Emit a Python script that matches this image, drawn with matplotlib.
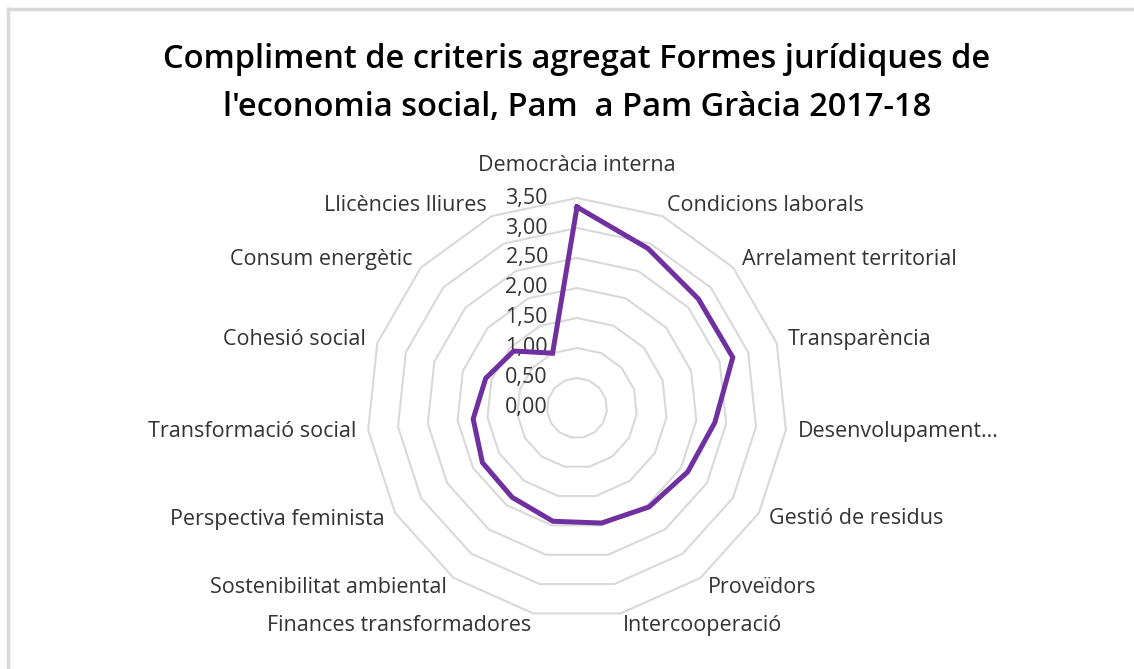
import numpy as np
import matplotlib
matplotlib.use("Agg")
import matplotlib.pyplot as plt
import matplotlib.transforms as mtransforms
from matplotlib.lines import Line2D

categories = ["Democràcia interna", "Condicions laborals", "Arrelament territorial",
              "Transparència", "Desenvolupament…", "Gestió de residus", "Proveïdors",
              "Intercooperació", "Finances transformadores", "Sostenibilitat ambiental",
              "Perspectiva feminista", "Transformació social", "Cohesió social",
              "Consum energètic", "Llicències lliures"]
values = [3.35, 2.91, 2.72, 2.73, 2.31, 2.13, 2.04, 1.96, 1.93, 1.84,
          1.82, 1.74, 1.60, 1.42, 1.00]
rings = [0.5, 1.0, 1.5, 2.0, 2.5, 3.0, 3.5]
ring_labels = ["0,00", "0,50", "1,00", "1,50", "2,00", "2,50", "3,00", "3,50"]
ring_label_vals = [0.0, 0.5, 1.0, 1.5, 2.0, 2.5, 3.0, 3.5]
title = "Compliment de criteris agregat Formes jurídiques de\nl'economia social, Pam  a Pam Gràcia 2017-18"

W, H = 1134, 669
fig = plt.figure(figsize=(W / 100, H / 100), dpi=100)

# light frame (top and left edges visible in the original)
fig.add_artist(Line2D([8 / W, 8 / W], [0, 1 - 9 / H], color="#d9d9d9", lw=2.5))
fig.add_artist(Line2D([8 / W, 1], [1 - 9 / H, 1 - 9 / H], color="#d9d9d9", lw=2.5))

cx, cy, R = 577, 408, 210
ax = fig.add_axes([(cx - R) / W, (H - cy - R) / H, 2 * R / W, 2 * R / H], projection="polar")
ax.set_theta_zero_location("N")
ax.set_theta_direction(-1)
ax.set_ylim(0, 3.5)
ax.grid(False)
ax.spines["polar"].set_visible(False)
ax.set_xticks([])
ax.set_yticks([])
ax.patch.set_visible(False)

n = len(categories)
theta = np.linspace(0, 2 * np.pi, n, endpoint=False)
theta_c = np.append(theta, theta[0])

for r in rings:
    ax.plot(theta_c, [r] * (n + 1), color="#d9d9d9", lw=1.5, clip_on=False, zorder=1)

vals = np.append(values, values[0])
ax.plot(theta_c, vals, color="#7030A0", lw=3.6, solid_joinstyle="miter", clip_on=False, zorder=3)

lab_font = "Open Sans"
fs = 15.5
col = "#333333"
off = mtransforms.offset_copy(ax.transData, fig=fig, x=-29, y=0, units="dots")
for v, s in zip(ring_label_vals, ring_labels):
    ax.text(0, v, s, transform=off, ha="right", va="center", fontsize=fs,
            family=lab_font, color=col, zorder=2)

for t, s in zip(theta, categories):
    deg = np.degrees(t)
    if deg < 1:
        ax.text(t, 3.87, s, ha="center", va="bottom", fontsize=fs, family=lab_font, color=col)
        continue
    ha = "left" if deg < 179 else "right"
    ax.text(t, 3.7, s, ha=ha, va="center", fontsize=fs, family=lab_font, color=col)

fig.text(cx / W, 1 - 84 / H, title, ha="center", va="center", fontsize=23.5,
         family="Open Sans", weight="semibold", linespacing=1.6, color="black")

fig.savefig("out.png", dpi=100, facecolor="white")
